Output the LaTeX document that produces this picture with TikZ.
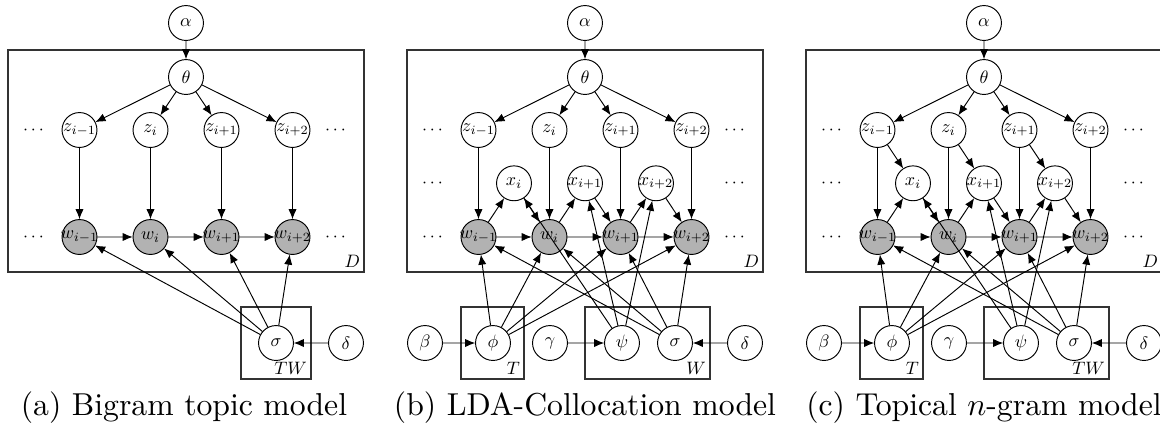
\RequirePackage{fix-cm}
\documentclass[tikz,border=0pt]{standalone}
\usepackage{amsmath}
\usepackage{tikz}
\usetikzlibrary{arrows.meta}

\tikzset{
  var/.style={draw, circle, fill=white, line width=0.3pt, transform shape, minimum size=20.4pt, inner sep=-2.8pt, font=\fontsize{10.5}{12}\selectfont},
  obs/.style={var, fill=black!30},
  plate/.style={draw=black!80, line width=0.5pt},
  platelabel/.style={anchor=south east, inner sep=2.2pt, transform shape, font=\fontsize{10.5}{12}\selectfont},
  dots/.style={transform shape, font=\fontsize{10.5}{12}\selectfont},
  subcap/.style={anchor=base, font=\fontsize{10}{12}\selectfont},
  link/.style={-{Latex[length=3.2pt,width=2.6pt]}, line width=0.3pt}
}

\begin{document}
\begin{tikzpicture}[x=0.5843pt, y=0.5843pt, scale=0.54]
  \useasboundingbox (0,0) rectangle (1160,425);

  % (a) bigram topic model
  \begin{scope}[shift={(186,0)}]
    \node[var] (a-alpha) at (0,402) {$\alpha$};
    \node[var] (a-theta) at (0,348) {$\theta$};
    \foreach \k/\s in {1/i-1,2/i,3/i+1,4/i+2} {
      \node[var] (a-z\k) at ({(\k-2.5)*71},295) {$z_{\s}$};
      \node[obs] (a-w\k) at ({(\k-2.5)*71},188) {$w_{\s}$};
    }
    \foreach \y/\r in {295/z,188/w} {
      \node[dots] (a-l\r) at (-151,\y) {$\cdots$};
      \node[dots] (a-r\r) at (151,\y) {$\cdots$};
    }
    \node[var] (a-sigma) at (90,82) {$\sigma$};
    \node[var] (a-delta) at (160,82) {$\delta$};
    \draw[plate] (-178,153) rectangle (178,375);
    \node[platelabel] (a-D) at (178,153) {$D$};
    \draw[plate] (55,46) rectangle (125,118);
    \node[platelabel] (a-TW) at (125,46) {$TW$};
    \draw[link] (a-alpha) -- (a-theta);
    \foreach \k in {1,...,4} {
      \draw[link] (a-theta) -- (a-z\k);
      \draw[link] (a-z\k) -- (a-w\k);
      \draw[link] (a-sigma) -- (a-w\k);
    }
    \foreach \k/\j in {1/2,2/3,3/4}
      \draw[link] (a-w\k) -- (a-w\j);
    \draw[link] (a-delta) -- (a-sigma);
    \node[subcap] (a-cap) at (-2,10) {(a) Bigram topic model};
  \end{scope}

  % (b) LDA-collocation and (c) topical n-gram
  \foreach \p/\cx/\wl/\cap in {b/585/W/{(b) LDA-Collocation model},
                               c/984/TW/{(c) Topical $n$-gram model}} {
    \begin{scope}[shift={(\cx,0)}]
      \node[var] (\p-alpha) at (0,402) {$\alpha$};
      \node[var] (\p-theta) at (0,348) {$\theta$};
      \foreach \k/\s in {1/i-1,2/i,3/i+1,4/i+2} {
        \node[var] (\p-z\k) at ({(\k-2.5)*71},295) {$z_{\s}$};
        \node[obs] (\p-w\k) at ({(\k-2.5)*71},188) {$w_{\s}$};
      }
      \foreach \k/\s in {2/i,3/i+1,4/i+2}
        \node[var] (\p-x\k) at ({(\k-3)*71},241.7) {$x_{\s}$};
      \foreach \y/\r in {295/z,241.7/x,188/w} {
        \node[dots] (\p-l\r) at (-151,\y) {$\cdots$};
        \node[dots] (\p-r\r) at (151,\y) {$\cdots$};
      }
      \node[var] (\p-beta) at (-160,82) {$\beta$};
      \node[var] (\p-phi) at (-92,82) {$\phi$};
      \node[var] (\p-gamma) at (-35,82) {$\gamma$};
      \node[var] (\p-psi) at (37,82) {$\psi$};
      \node[var] (\p-sigma) at (90,82) {$\sigma$};
      \node[var] (\p-delta) at (160,82) {$\delta$};
      \draw[plate] (-178,153) rectangle (178,375);
      \node[platelabel] (\p-D) at (178,153) {$D$};
      \draw[plate] (-124,46) rectangle (-61,118);
      \node[platelabel] (\p-T) at (-61,46) {$T$};
      \draw[plate] (0,46) rectangle (125,118);
      \node[platelabel] (\p-W) at (125,46) {$\wl$};
      \draw[link] (\p-alpha) -- (\p-theta);
      \foreach \k in {1,...,4} {
        \draw[link] (\p-theta) -- (\p-z\k);
        \draw[link] (\p-z\k) -- (\p-w\k);
        \draw[link] (\p-phi) -- (\p-w\k);
        \draw[link] (\p-sigma) -- (\p-w\k);
      }
      \foreach \k/\j in {1/2,2/3,3/4} {
        \draw[link] (\p-w\k) -- (\p-w\j);
        \draw[link] (\p-w\k) -- (\p-x\j);
        \draw[link] (\p-x\j) -- (\p-w\j);
        \draw[link] (\p-psi) -- (\p-x\j);
      }
      \draw[link] (\p-beta) -- (\p-phi);
      \draw[link] (\p-gamma) -- (\p-psi);
      \draw[link] (\p-delta) -- (\p-sigma);
      \node[subcap] (\p-cap) at (0,10) {\cap};
    \end{scope}
  }
  % topic of the previous word feeds the status in (c)
  \foreach \k/\j in {1/2,2/3,3/4}
    \draw[link] (c-z\k) -- (c-x\j);
\end{tikzpicture}
\end{document}
